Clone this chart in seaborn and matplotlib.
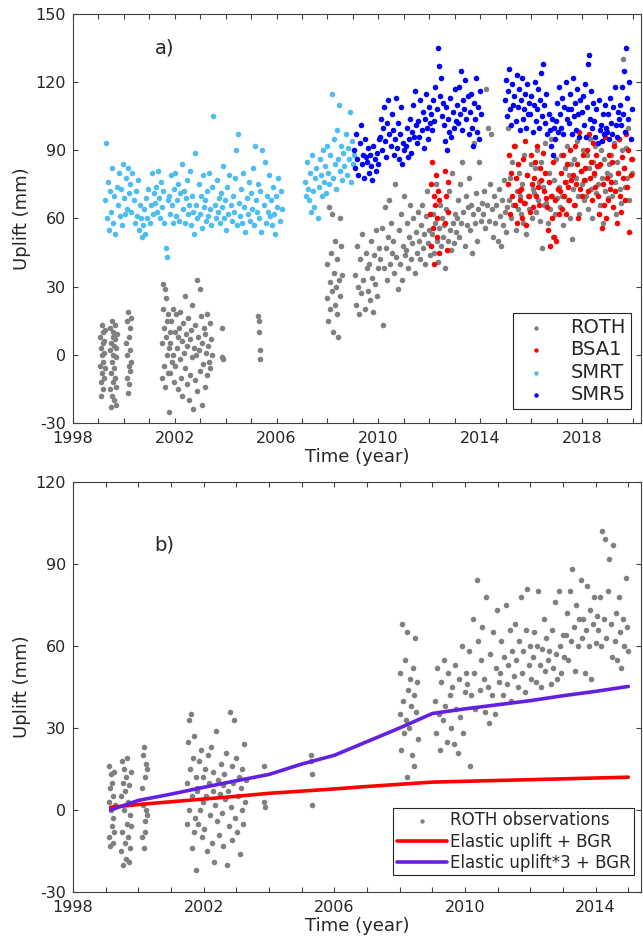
import numpy as np
import pandas as pd
import matplotlib
matplotlib.use('Agg')
import matplotlib.pyplot as plt
from matplotlib.ticker import MultipleLocator, FixedLocator
import seaborn as sns

# ---- panel a) : GNSS vertical time series (mm) ----
# each segment: (first epoch, last epoch) and the values in time order

smrt_spans = [(1999.25, 2006.2), (2007.1, 2009.05)]
smrt_1 = [68, 93, 60, 76, 55, 72, 63, 82, 58, 70, 53, 74,
          66, 80, 61, 73, 57, 84, 69, 62, 78, 64, 82, 71,
          75, 63, 80, 68, 58, 72, 61, 77, 55, 66, 60, 52,
          57, 64, 53, 69, 60, 73, 58, 66, 80, 62, 71, 67,
          74, 63, 81, 69, 60, 76, 65, 72, 58, 47, 43, 68,
          70, 62, 79, 66, 58, 73, 80, 61, 68, 75, 59, 71,
          84, 64, 72, 58, 69, 77, 62, 66, 81, 57, 70, 63,
          53, 89, 66, 60, 75, 62, 70, 56, 79, 65, 68, 59,
          72, 61, 80, 64, 57, 74, 105, 66, 60, 77, 63, 69,
          58, 71, 65, 83, 60, 68, 55, 74, 62, 79, 66, 59,
          70, 63, 78, 90, 57, 97, 67, 61, 73, 58, 80, 65,
          54, 69, 62, 76, 59, 71, 64, 82, 57, 92, 68, 63,
          75, 60, 72, 54, 90, 66, 85, 58, 70, 63, 79, 61,
          68, 57, 74, 62, 53, 70, 65, 78, 59, 72, 64]
smrt_2 = [76, 70, 85, 73, 68, 80, 63, 88, 72, 65, 78, 82,
          60, 74, 86, 79, 70, 90, 76, 83, 71, 92, 80, 75,
          88, 115, 78, 95, 84, 73, 99, 86, 110, 81, 92, 77,
          89, 83, 97, 79, 91, 86, 107, 76, 94, 84, 88]

smr5_spans = [(2009.05, 2014.05), (2014.97, 2019.95)]
smr5_1 = [90, 82, 97, 86, 79, 93, 101, 84, 88, 78, 95, 87,
          85, 91, 80, 88, 83, 77, 92, 86, 81, 89, 84, 95,
          96, 104, 90, 100, 109, 94, 87, 102, 112, 97, 92, 106,
          99, 88, 95, 113, 91, 102, 86, 97, 109, 84, 93, 90,
          92, 100, 87, 95, 104, 89, 98, 110, 96, 116, 101, 93,
          103, 96, 112, 99, 107, 91, 104, 115, 100, 95, 109, 102,
          106, 99, 112, 103, 118, 108, 135, 127, 114, 122, 105, 111,
          101, 94, 109, 90, 104, 98, 113, 96, 107, 100, 117, 103,
          110, 102, 118, 106, 125, 99, 112, 108, 121, 104, 114, 97,
          107, 115, 100, 92, 111, 104, 122, 98, 109, 95, 116, 106]
smr5_2 = [112, 121, 105, 116, 126, 108, 101, 119, 110, 114, 103, 123,
          109, 117, 99, 112, 122, 104, 108, 115, 100, 119, 106, 111,
          106, 114, 98, 110, 120, 103, 108, 117, 100, 112, 124, 105,
          128, 110, 102, 115, 97, 106, 99, 92, 104, 88, 100, 95,
          103, 111, 98, 118, 106, 100, 113, 97, 109, 120, 104, 108,
          102, 115, 108, 97, 122, 105, 111, 99, 117, 106, 96, 112,
          107, 114, 101, 119, 96, 109, 128, 132, 104, 116, 100, 111,
          103, 96, 108, 93, 112, 99, 101, 94, 106, 97, 110, 100,
          98, 106, 95, 113, 102, 97, 109, 118, 101, 96, 107, 104,
          110, 101, 118, 106, 125, 98, 135, 113, 104, 120, 95, 108]

bsa1_spans = [(2012.03, 2012.4), (2012.6, 2012.75), (2015.1, 2019.95)]
bsa1_1 = [62, 75, 48, 85, 56, 70, 40, 66, 79, 52, 60, 72, 45, 68]
bsa1_2 = [81, 58, 70, 46, 76, 63]
bsa1_3 = [75, 88, 62, 80, 70, 92, 66, 78, 58, 84, 72, 68,
          73, 60, 86, 67, 94, 57, 79, 70, 63, 88, 75, 65,
          78, 85, 70, 92, 74, 66, 82, 77, 89, 72, 80, 69,
          65, 55, 76, 48, 70, 60, 85, 52, 68, 50, 73, 62,
          72, 80, 64, 88, 70, 76, 62, 84, 74, 68, 90, 77,
          79, 66, 92, 75, 84, 60, 98, 73, 81, 70, 88, 77,
          82, 90, 72, 97, 78, 85, 68, 93, 80, 74, 88, 83,
          70, 62, 84, 56, 75, 66, 96, 60, 78, 68, 88, 73,
          76, 85, 65, 92, 72, 58, 80, 95, 70, 63, 87, 78,
          82, 68, 97, 74, 90, 54, 79, 86]

roth_spans = [(1999.06, 1999.26), (1999.45, 1999.72), (2000.1, 2000.28),
              (2001.49, 2001.8), (2001.8, 2003.45), (2003.84, 2003.88),
              (2005.27, 2005.35), (2007.97, 2008.56), (2009.08, 2019.95)]
roth_1 = [-5, 8, -12, 3, -18, 13, 0, -8, 5, -15, 10, -3, 1, -10, 6, -6, 11]
roth_2 = [2, -15, 12, -8, 5, -23, 15, -3, -18, 8, 0, -12, 10, -20, 4, -6,
          13, -10, 7, -1, -22, 3, -14, 9]
roth_3 = [5, -10, 15, 0, -17, 19, -5, 8, -13, 12, 2, -7, 16, -3]
roth_4 = [5, -10, 20, 31, -5, 12, 29, -14, 8, 25, 0, 15, -8, 18, -25, 3, 10]
roth_5 = [5, -8, 15, -3, 20, 0, -12, 10, -5, 18, 3, -15, 8, 12, -2, 19, -10, 6,
          -18, 14, 1, 26, -6, 9, -13, 4, 16, -20, 7, -9, 11, -1, 22, -24, 3, -11,
          13, 0, 33, -16, 8, 2, 29, -7, 17, -22, 5, -4, 12, -14, 9, 1, 18, -9,
          4, -3, 14, -6, 7, 0]
roth_6 = [12, -1, -2]
roth_7 = [17, 15, 10, 2, -2]
roth_8 = [25, 40, 15, 65, 32, 20, 45, 28, 62, 10, 36, 22, 50, 30, 18, 42, 8,
          33, 60, 26, 48, 35]
roth_9 = [35, 22, 48, 30, 18, 42, 27, 53, 33, 20, 45, 38,
          28, 40, 24, 50, 34, 19, 44, 31, 55, 26, 38, 47,
          42, 56, 13, 38, 65, 47, 33, 52, 68, 40, 58, 45,
          50, 36, 75, 43, 29, 55, 40, 62, 33, 48, 70, 44,
          46, 58, 38, 52, 66, 42, 49, 60, 36, 54, 45, 63,
          50, 42, 57, 66, 47, 53, 40, 61, 72, 49, 55, 44,
          53, 62, 45, 58, 75, 50, 41, 56, 66, 48, 60, 52,
          57, 38, 64, 50, 72, 55, 46, 80, 58, 49, 62, 54,
          60, 68, 52, 75, 58, 85, 63, 48, 70, 57, 65, 78,
          55, 66, 45, 62, 93, 58, 71, 50, 64, 85, 59, 67,
          62, 72, 56, 117, 66, 100, 59, 75, 97, 64, 52, 70,
          58, 66, 50, 73, 61, 48, 68, 57, 77, 63, 54, 65,
          100, 68, 78, 60, 85, 66, 92, 55, 72, 64, 80, 70,
          62, 75, 58, 88, 67, 53, 79, 70, 64, 84, 60, 73,
          71, 82, 63, 90, 68, 76, 59, 85, 47, 74, 66, 93,
          67, 58, 80, 64, 95, 70, 52, 77, 62, 86, 69, 73,
          74, 65, 88, 70, 57, 82, 76, 92, 68, 79, 60, 84,
          51, 73, 86, 66, 78, 94, 70, 62, 81, 75, 90, 68,
          77, 70, 88, 64, 82, 95, 73, 60, 85, 79, 92, 71,
          75, 83, 66, 90, 78, 58, 86, 72, 98, 80, 69, 84,
          79, 88, 70, 93, 76, 62, 85, 80, 95, 73, 67, 90,
          130, 82, 74, 91, 78, 100, 68, 86, 80]

# ---- panel b) : ROTH observations and model curves ----
obs_spans = [(1999.09, 1999.28), (1999.47, 1999.78), (2000.1, 2000.28),
             (2001.48, 2001.8), (2001.8, 2003.3), (2003.84, 2003.88),
             (2005.28, 2005.32), (2008.0, 2008.56), (2009.07, 2015.0)]
obs_1 = [3, 16, -10, 8, -13, 13, 0, -6, 10, -12, 5, -3, 14, -8, 2]
obs_2 = [5, -15, 18, -8, 10, -20, 0, 15, -12, 7, -18, 12, -5, 19, -10, 3,
         -19, 9, -2, -14, 14, -6]
obs_3 = [8, -10, 20, 2, -14, 23, -4, 12, -8, 17, 0, -2, 15]
obs_4 = [10, -5, 25, 33, 0, 15, 35, -14, 5, 19, -8, 27, -3, 12, -22, 7]
obs_5 = [8, -5, 18, 0, 22, -10, 12, 3, -7, 15, 5, -15, 20, 10, -2, 23, -12, 7,
         14, -19, 2, 29, -4, 11, -9, 6, 17, -1, 9, -13, 13, 4, 21, -20, 7, -6,
         36, 1, 16, -11, 10, 33, -3, 19, -8, 5, 12, -16, 8, 0, 15, -5, 24, 3, 11]
obs_6 = [16, 3, 1]
obs_7 = [20, 18, 13, 2]
obs_8 = [35, 50, 22, 68, 40, 28, 55, 33, 65, 12, 44, 30, 48, 38, 20, 52, 16,
         42, 63, 36, 47, 26]
obs_9 = [40, 28, 52, 35, 22, 47, 33, 55, 38, 25, 50, 42,
         30, 45, 24, 53, 37, 21, 48, 34, 60, 28, 43, 50,
         46, 58, 16, 42, 70, 50, 37, 84, 62, 44, 55, 67,
         48, 36, 78, 45, 32, 57, 42, 65, 35, 52, 73, 47,
         50, 62, 42, 56, 75, 46, 53, 66, 40, 58, 49, 68,
         55, 45, 62, 78, 50, 58, 43, 66, 81, 53, 60, 48,
         56, 65, 47, 60, 80, 53, 45, 59, 70, 51, 63, 55,
         58, 46, 66, 52, 76, 57, 48, 80, 60, 50, 64, 56,
         64, 72, 55, 80, 62, 88, 67, 51, 75, 60, 70, 84,
         63, 70, 50, 66, 82, 60, 73, 48, 68, 78, 61, 71,
         66, 78, 60, 102, 70, 99, 63, 80, 92, 68, 56, 97,
         62, 72, 55, 78, 65, 52, 70, 60, 85, 67, 58]

model_years = [1999.15, 2000, 2001, 2002, 2003, 2004, 2005, 2006, 2007, 2008,
               2009, 2010, 2011, 2012, 2013, 2014, 2015]
elastic_bgr = [1.0, 2.0, 3.0, 4.0, 5.0, 6.1, 6.9, 7.7, 8.6, 9.4,
               10.2, 10.5, 10.8, 11.1, 11.4, 11.7, 12.0]
elastic3_bgr = [0.0, 3.5, 5.8, 8.3, 10.7, 13.0, 16.8, 20.0, 25.0, 30.0,
                35.3, 37.0, 38.5, 40.0, 41.8, 43.4, 45.2]


def series(spans, chunks):
    # spread each segment's samples evenly between its first and last epoch
    t, v = [], []
    for (t0, t1), vals in zip(spans, chunks):
        t += list(np.linspace(t0, t1, len(vals)))
        v += list(vals)
    return pd.DataFrame({'year': t, 'uplift': v})


roth = series(roth_spans, [roth_1, roth_2, roth_3, roth_4, roth_5, roth_6, roth_7, roth_8, roth_9])
bsa1 = series(bsa1_spans, [bsa1_1, bsa1_2, bsa1_3])
smrt = series(smrt_spans, [smrt_1, smrt_2])
smr5 = series(smr5_spans, [smr5_1, smr5_2])
obs = series(obs_spans, [obs_1, obs_2, obs_3, obs_4, obs_5, obs_6, obs_7, obs_8, obs_9])
models = pd.DataFrame({'year': model_years, 'elastic': elastic_bgr, 'elastic3': elastic3_bgr})

sns.set_style('ticks')
plt.rcParams['font.family'] = ['DejaVu Sans']
plt.rcParams['axes.unicode_minus'] = False

GRAY = '#808080'
AXC = '#404040'
TXT = '#262626'

fig = plt.figure(figsize=(6.43, 9.44), dpi=100)
ax1 = fig.add_axes([0.1135, 0.5519, 0.8834, 0.4333])
ax2 = fig.add_axes([0.1135, 0.0551, 0.8834, 0.4343])

dot = dict(s=16, linewidth=0, ax=ax1)
sns.scatterplot(data=roth, x='year', y='uplift', color=GRAY, label='ROTH', **dot)
sns.scatterplot(data=bsa1, x='year', y='uplift', color='#ff0000', label='BSA1', **dot)
sns.scatterplot(data=smrt, x='year', y='uplift', color='#4dbeee', label='SMRT', **dot)
sns.scatterplot(data=smr5, x='year', y='uplift', color='#0000ff', label='SMR5', **dot)

sns.scatterplot(data=obs, x='year', y='uplift', color=GRAY, s=16, linewidth=0,
                label='ROTH observations', ax=ax2)
sns.lineplot(data=models, x='year', y='elastic', color='#ff0000', linewidth=2.6,
             label='Elastic uplift + BGR', ax=ax2)
sns.lineplot(data=models, x='year', y='elastic3', color='#6420e0', linewidth=2.6,
             label='Elastic uplift*3 + BGR', ax=ax2)

ax1.set_xlim(1998, 2020.32)
ax1.set_ylim(-30, 150)
ax2.set_xlim(1998, 2015.39)
ax2.set_ylim(-30, 120)
ax1.xaxis.set_major_locator(FixedLocator(list(range(1998, 2021, 4))))
ax2.xaxis.set_major_locator(FixedLocator(list(range(1998, 2016, 4))))

for ax in (ax1, ax2):
    ax.xaxis.set_minor_locator(MultipleLocator(1))
    ax.yaxis.set_major_locator(MultipleLocator(30))
    ax.tick_params(which='both', direction='in', top=True, right=True, length=3.5,
                   width=0.8, colors=AXC, labelcolor=TXT, labelsize=11.5)
    ax.tick_params(axis='x', pad=6)
    ax.tick_params(axis='y', pad=5)
    for sp in ax.spines.values():
        sp.set_color(AXC)
        sp.set_linewidth(0.8)
    ax.set_xlabel('Time (year)', fontsize=13, color=TXT, labelpad=1)
    ax.set_ylabel('Uplift (mm)', fontsize=13, color=TXT, labelpad=3)

ax1.text(2001.6, 135, 'a)', fontsize=14, ha='center', va='center', color=TXT)
ax2.text(2000.8, 97, 'b)', fontsize=14, ha='center', va='center', color=TXT)

leg1 = ax1.legend(loc='lower right', bbox_to_anchor=(0.982, 0.034), borderaxespad=0,
                  fontsize=14, fancybox=False, framealpha=1, edgecolor=TXT,
                  handlelength=1.8, handletextpad=0.9, labelspacing=0.18,
                  borderpad=0.25, markerscale=0.8)
leg1.get_frame().set_linewidth(0.8)

leg2 = ax2.legend(loc='lower right', bbox_to_anchor=(0.988, 0.041), borderaxespad=0,
                  fontsize=12, fancybox=False, framealpha=1, edgecolor=TXT,
                  handlelength=3.0, handletextpad=0.2, labelspacing=0.2,
                  borderpad=0.2, markerscale=0.8)
leg2.get_frame().set_linewidth(0.8)

fig.savefig('out.png', dpi=100)
